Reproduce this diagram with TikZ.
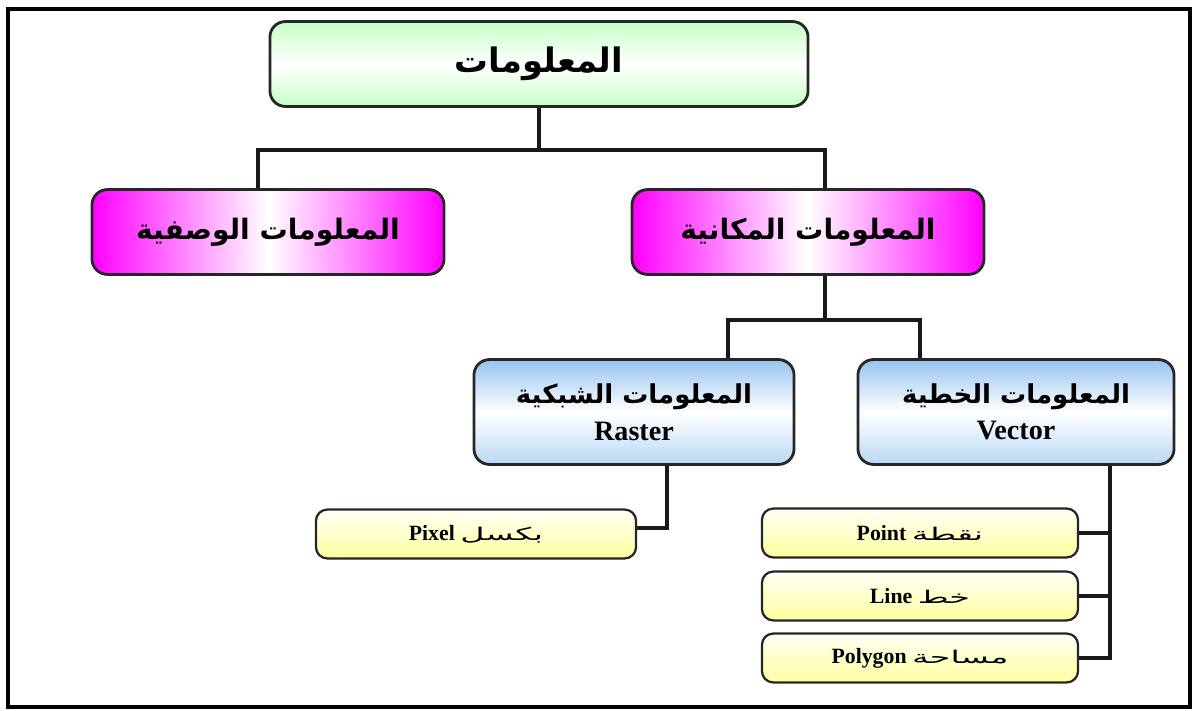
\documentclass[tikz,border=0pt]{standalone}
\usepackage{fontspec}
\setmainfont{Liberation Serif}
\newfontfamily\arabicfont[Script=Arabic]{DejaVu Sans}
\newfontfamily\arabicwide[Script=Arabic,FakeStretch=1.9]{DejaVu Sans}
\TeXXeTstate=1
\newcommand{\artxt}[1]{{\arabicfont\beginR #1\endR}}
\newcommand{\arsmall}[1]{{\arabicwide\mdseries\fontsize{12.5}{15}\selectfont #1}}
\definecolor{skyblue}{RGB}{150,195,240}
\definecolor{paleblue}{RGB}{185,215,245}
\definecolor{paleyellow}{RGB}{255,255,160}

\tikzset{
  box/.style={draw=black!85,line width=2pt,align=center,inner sep=2pt},
  bigbox/.style={box,rounded corners=11pt,font=\bfseries},
  smallbox/.style={box,rounded corners=8pt,line width=1.6pt,minimum width=7.9cm,minimum height=1.22cm,
    top color=white!90!paleyellow,bottom color=paleyellow,font=\bfseries\fontsize{15.5}{17}\selectfont},
  greenbox/.style={bigbox,minimum width=13.45cm,minimum height=2.12cm,
    top color=green!22,bottom color=green!22,middle color=white,font=\bfseries\fontsize{24}{28}\selectfont},
  pinkbox/.style={bigbox,minimum width=8.8cm,minimum height=2.12cm,
    left color=magenta,right color=magenta,middle color=white,font=\bfseries\fontsize{20}{24}\selectfont},
  bluebox/.style={bigbox,minimum width=8cm,minimum height=2.62cm,
    top color=skyblue,bottom color=paleblue,middle color=white,font=\bfseries\fontsize{20}{26}\selectfont},
  conn/.style={line width=2.6pt,black!90}
}

\begin{document}
\begin{tikzpicture}[x=0.025cm,y=-0.025cm]
\useasboundingbox (0,0) rectangle (1192,711);
\draw[line width=2.2pt] (8,9) rectangle (1190,707);

\node[greenbox] (info) at (539,64) {\artxt{المعلومات}};
\node[pinkbox] (desc) at (268,232) {\artxt{المعلومات الوصفية}};
\node[pinkbox] (spatial) at (808,232) {\artxt{المعلومات المكانية}};
\node[bluebox] (raster) at (634,412) {{\fontsize{18.5}{22}\selectfont\artxt{المعلومات الشبكية}}\\Raster};
\node[bluebox,minimum width=7.9cm] (vector) at (1016,412) {{\fontsize{18.5}{22}\selectfont\artxt{المعلومات الخطية}}\\Vector};
\node[smallbox,minimum width=8cm] (pixel) at (476,534) {\beginR\arsmall{بكسل} Pixel\endR};
\node[smallbox] (point) at (920,533) {\beginR\arsmall{نقطة} Point\endR};
\node[smallbox] (line) at (920,596) {\beginR\arsmall{خط} Line\endR};
\node[smallbox] (polygon) at (920,658) {\beginR\arsmall{مساحة} Polygon\endR};

\coordinate (ra) at (0,150);
\coordinate (rb) at (0,320);
\draw[conn] (info.south) -- (info.south |- ra) -| ([xshift=-0.25cm]desc.north);
\draw[conn] (info.south |- ra) -| ([xshift=0.42cm]spatial.north);
\draw[conn] ([xshift=0.42cm]spatial.south) -- ([xshift=0.42cm]spatial.south |- rb) -| ([xshift=2.35cm]raster.north);
\draw[conn] ([xshift=0.42cm]spatial.south |- rb) -| ([xshift=-2.4cm]vector.north);
\draw[conn] ([xshift=0.82cm]raster.south) |- ([yshift=0.15cm]pixel.east);
\coordinate (vb) at ([xshift=2.35cm]vector.south);
\draw[conn] (vb) |- (polygon.east);
\draw[conn] (point.east) -- (point.east -| vb);
\draw[conn] (line.east) -- (line.east -| vb);
\end{tikzpicture}
\end{document}
